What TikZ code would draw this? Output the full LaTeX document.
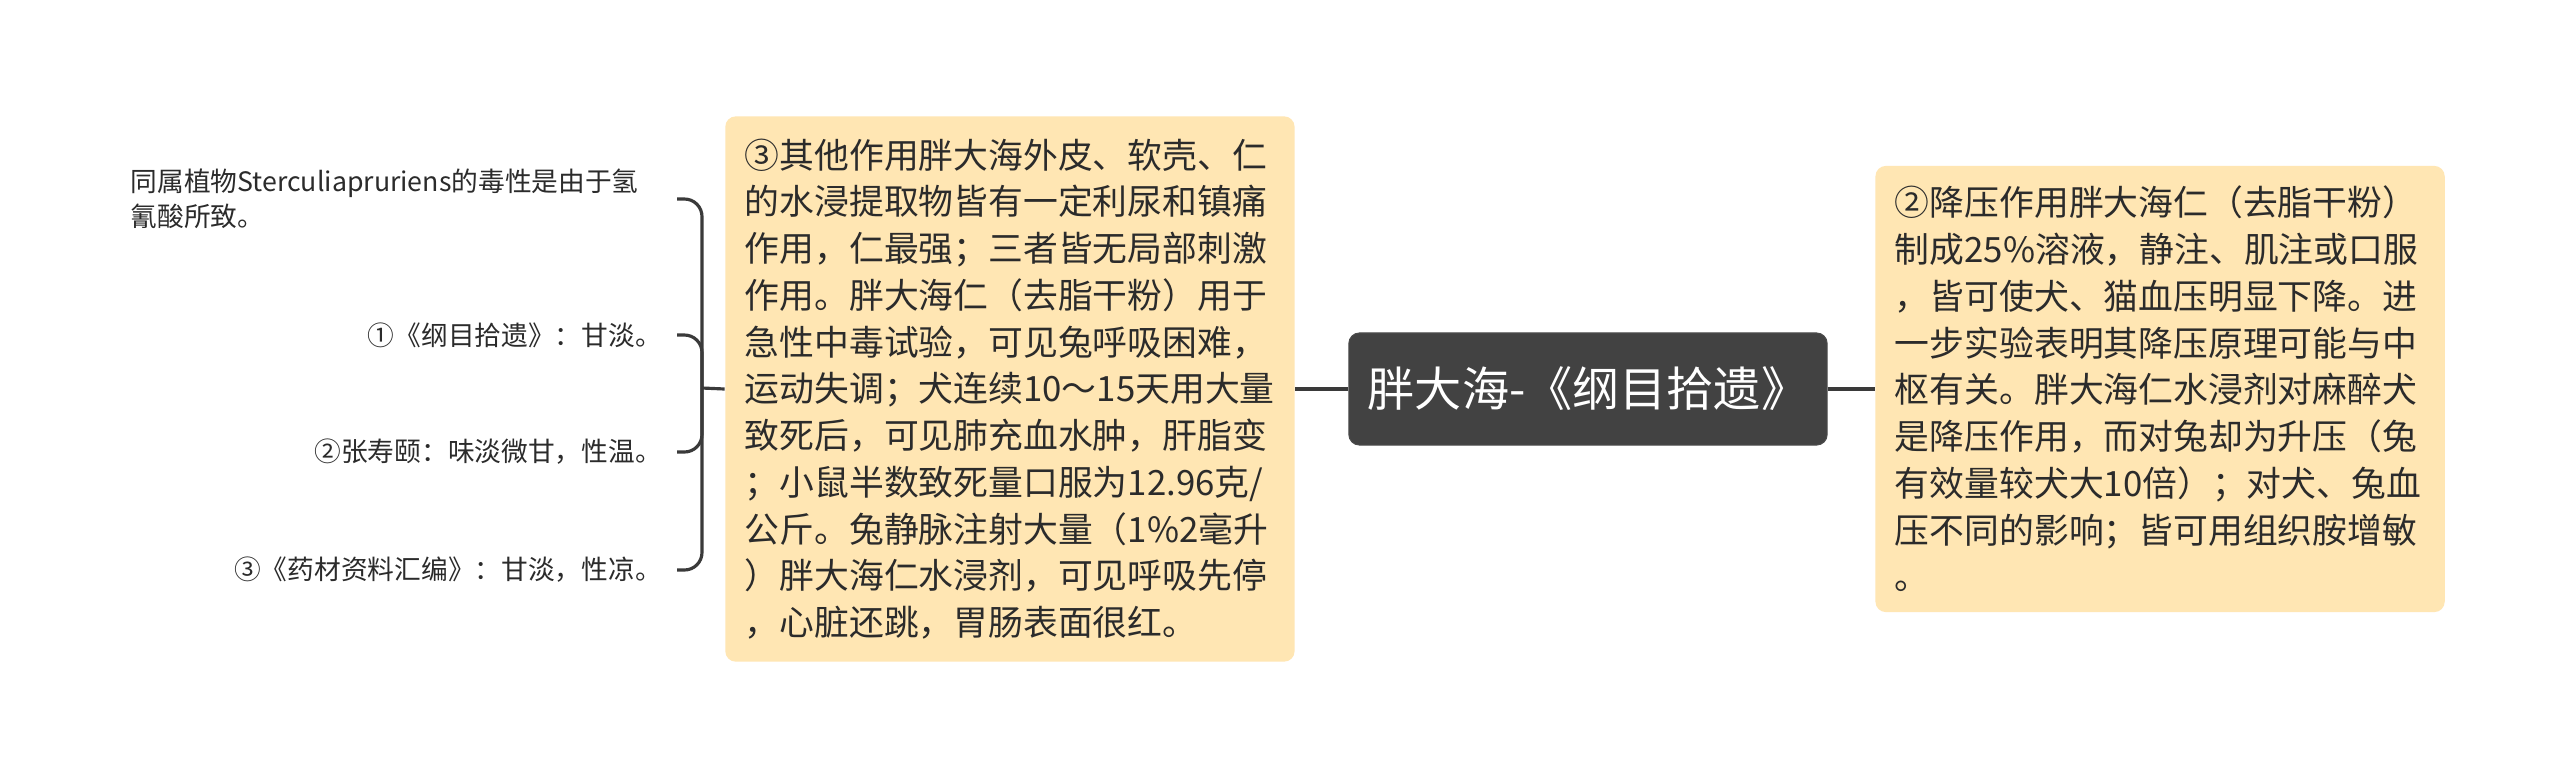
\documentclass[tikz,border=0pt]{standalone}
\usepackage{fontspec}
\setmainfont{Noto Sans CJK SC}
\usepackage{tikz}
\usetikzlibrary{positioning}
\definecolor{notefill}{HTML}{FFE6B3}
\definecolor{rootfill}{HTML}{424242}
\definecolor{linkgray}{HTML}{3A3A3A}
\definecolor{inkgray}{HTML}{2B2B2B}

\begin{document}
\begin{tikzpicture}[x=0.01cm,y=-0.01cm,
    link/.style={draw=linkgray,line width=0.9pt},
    note/.style={fill=notefill,rounded corners=3pt,align=left,text=inkgray,
      text width=5.3cm,inner xsep=0.195cm,inner ysep=0pt,
      font=\fontsize{9.9pt}{13.3pt}\selectfont},
    rootbox/.style={fill=rootfill,draw=black!70,line width=0.3pt,rounded corners=3pt,
      text=white,minimum width=4.78cm,minimum height=1.12cm,
      font=\fontsize{13.4pt}{15pt}\selectfont},
    leaf/.style={inner sep=0pt,outer sep=4.3pt,align=left,text=inkgray,
      font=\fontsize{7.6pt}{9.8pt}\selectfont}]

    \fill[white,use as bounding box] (0,0) rectangle (2560,769);

    \node[rootbox] (root) at (1588,389) {胖大海-《纲目拾遗》};

    \node[note,minimum height=5.45cm,left=0.53cm of root] (detail) {%
      ③其他作用胖大海外皮、软壳、仁\\
      的水浸提取物皆有一定利尿和镇痛\\
      作用，仁最强；三者皆无局部刺激\\
      作用。胖大海仁（去脂干粉）用于\\
      急性中毒试验，可见兔呼吸困难，\\
      运动失调；犬连续10～15天用大量\\
      致死后，可见肺充血水肿，肝脂变\\
      ；小鼠半数致死量口服为12.96克/\\
      公斤。兔静脉注射大量（1\%2毫升\\
      ）胖大海仁水浸剂，可见呼吸先停\\
      ，心脏还跳，胃肠表面很红。};

    \node[note,minimum height=4.46cm,right=0.47cm of root] (effect) {%
      ②降压作用胖大海仁（去脂干粉）\\
      制成25\%溶液，静注、肌注或口服\\
      ，皆可使犬、猫血压明显下降。进\\
      一步实验表明其降压原理可能与中\\
      枢有关。胖大海仁水浸剂对麻醉犬\\
      是降压作用，而对兔却为升压（兔\\
      有效量较犬大10倍）；对犬、兔血\\
      压不同的影响；皆可用组织胺增敏\\
      。};

    % left leaves
    \node[leaf,text width=5.31cm,anchor=east] (toxin) at (677,199)
      {同属植物Sterculiapruriens的毒性是由于氢\\氰酸所致。};
    \node[leaf,anchor=east] (taste1) at (677,335) {①《纲目拾遗》：甘淡。};
    \node[leaf,anchor=east] (taste2) at (677,452) {②张寿颐：味淡微甘，性温。};
    \node[leaf,anchor=east] (taste3) at (677,570) {③《药材资料汇编》：甘淡，性凉。};

    \coordinate (hub) at (702,388);

    \draw[link] (root.west) -- (detail.east);
    \draw[link] (root.east) -- (effect.west);
    \draw[link] (detail.west) -- (hub);
    \foreach \leafname in {toxin,taste1,taste2,taste3}
      \draw[link,rounded corners=5pt] (hub) |- (\leafname.east);
\end{tikzpicture}
\end{document}
